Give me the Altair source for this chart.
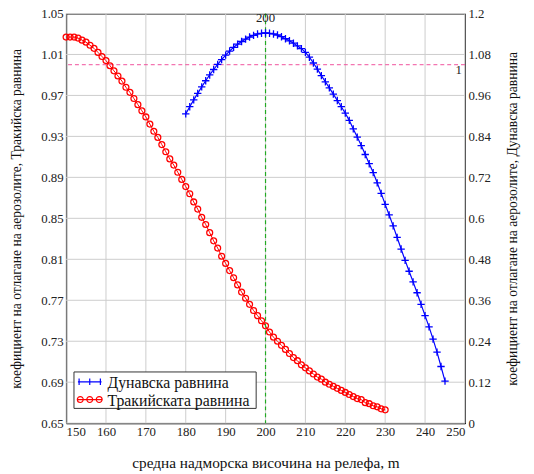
import altair as alt
import pandas as pd

# --- data ---
red_x = list(range(150, 231))
red_y = [1.027, 1.027, 1.027, 1.026, 1.024, 1.022, 1.019, 1.016, 1.012, 1.008,
         1.004, 0.999, 0.994, 0.989, 0.984, 0.978, 0.973, 0.967, 0.961, 0.955,
         0.949, 0.942, 0.935, 0.929, 0.922, 0.915, 0.908, 0.902, 0.895, 0.888,
         0.881, 0.874, 0.866, 0.859, 0.851, 0.844, 0.836, 0.828, 0.821, 0.813,
         0.806, 0.799, 0.792, 0.785, 0.778, 0.772, 0.766, 0.760, 0.755, 0.750,
         0.745, 0.739, 0.734, 0.730, 0.726, 0.722, 0.718, 0.714, 0.711, 0.707,
         0.704, 0.701, 0.698, 0.695, 0.693, 0.690, 0.688, 0.686, 0.684, 0.682,
         0.680, 0.678, 0.676, 0.674, 0.673, 0.670, 0.669, 0.667, 0.666, 0.664,
         0.663]
blue_x = list(range(180, 246))
blue_y = [0.906, 0.927, 0.947, 0.966, 0.985, 1.003, 1.020, 1.036, 1.051, 1.065,
          1.078, 1.090, 1.101, 1.110, 1.118, 1.125, 1.131, 1.136, 1.140, 1.142,
          1.143, 1.142, 1.140, 1.137, 1.132, 1.126, 1.120, 1.113, 1.105, 1.097,
          1.086, 1.072, 1.055, 1.037, 1.018, 1.000, 0.982, 0.964, 0.945, 0.927,
          0.908, 0.887, 0.862, 0.838, 0.813, 0.787, 0.760, 0.734, 0.704, 0.673,
          0.641, 0.610, 0.578, 0.544, 0.510, 0.477, 0.445, 0.414, 0.382, 0.348,
          0.315, 0.282, 0.246, 0.208, 0.166, 0.123]

x_ticks = [150, 160, 170, 180, 190, 200, 210, 220, 230, 240, 250]
left_ticks = [0.65, 0.69, 0.73, 0.77, 0.81, 0.85, 0.89, 0.93, 0.97, 1.01, 1.05]
right_ticks = [0, 0.12, 0.24, 0.36, 0.48, 0.6, 0.72, 0.84, 0.96, 1.08, 1.2]
ref_y = 1.0
ref_x = 200
series_names = ["Дунавска равнина", "Тракийската равнина"]
x_title = "средна надморска височина на релефа, m"
left_title = "коефициент на отлагане на аерозолите, Тракийска равнина"
right_title = "коефициент на отлагане на аерозолите, Дунавска равнина"

W, H = 405, 416
SERIF = "'Liberation Serif', 'Times New Roman', Times, serif"
RED = "#ff0000"
BLUE = "#0000ff"
GRID = "#cccccc"
PLUS = "M-1,0L1,0M0,-1L0,1"
LEG_PLUS = ("M-1,0L1,0M-0.9,-0.28L-0.9,0.28M0,-0.28L0,0.28M0.9,-0.28L0.9,0.28")
LEG_CIRC = ("M-1,0L1,0"
            "M-0.55,0A0.25,0.25,0,1,1,-1.05,0A0.25,0.25,0,1,1,-0.55,0"
            "M0.25,0A0.25,0.25,0,1,1,-0.25,0A0.25,0.25,0,1,1,0.25,0"
            "M1.05,0A0.25,0.25,0,1,1,0.55,0A0.25,0.25,0,1,1,1.05,0")

red_df = pd.DataFrame({"x": red_x, "v": red_y})
blue_df = pd.DataFrame({"x": blue_x, "v": blue_y})
xgrid_df = pd.DataFrame({"x": x_ticks})
ygrid_df = pd.DataFrame({"v": left_ticks})
one = alt.Data(values=[{}])

common = dict(labelFont=SERIF, labelFontSize=13, labelColor="#222", labelPadding=3,
              titleFont=SERIF, titleColor="#111", titleFontWeight="normal",
              ticks=False, domainColor="black", domainWidth=1, grid=False)

xscale = alt.Scale(domain=[150, 250], nice=False, zero=False)
lscale = alt.Scale(domain=[0.65, 1.05], nice=False, zero=False)
rscale = alt.Scale(domain=[0, 1.2], nice=False, zero=False)

xenc = alt.X("x:Q", scale=xscale,
             axis=alt.Axis(values=x_ticks, title=x_title, titleY=40,
                           titleFontSize=15.5, titleBaseline="middle", **common))
yleft = alt.Y("v:Q", scale=lscale,
              axis=alt.Axis(values=left_ticks, format=".2f", title=left_title,
                            titleX=-50, titleY=H / 2, titleAngle=270, titleFontSize=13.8,
                            titleBaseline="middle", titleAlign="center", **common))
yright = alt.Y("v:Q", scale=rscale,
               axis=alt.Axis(values=right_ticks, format=".2~f", orient="right",
                             title=right_title, titleX=48, titleY=H / 2, titleAngle=270,
                             titleFontSize=13.8, titleBaseline="middle", titleAlign="center",
                             **common))

# grid lines drawn from the tick arrays
xgrid = alt.Chart(xgrid_df).mark_rule(color=GRID, strokeWidth=1).encode(x=xenc)
ygrid = alt.Chart(ygrid_df).mark_rule(color=GRID, strokeWidth=1).encode(y=yleft)

red_line = alt.Chart(red_df).mark_line(color=RED, strokeWidth=1).encode(x="x:Q", y="v:Q")
red_pts = alt.Chart(red_df).mark_point(shape="circle", filled=False, color=RED,
                                       size=36, strokeWidth=1.3, opacity=1).encode(x="x:Q", y="v:Q")
hline = alt.Chart(one).mark_rule(color="#f0509c", strokeDash=[4, 3], strokeWidth=1).encode(
    y=alt.datum(ref_y))
vline = alt.Chart(one).mark_rule(color="#22aa22", strokeDash=[4, 3], strokeWidth=1.2).encode(
    x=alt.datum(ref_x))
txt200 = alt.Chart(one).mark_text(font=SERIF, fontSize=13, color="#222", baseline="middle").encode(
    x=alt.datum(ref_x), y=alt.value(5), text=alt.value(str(ref_x)))
txt1 = alt.Chart(one).mark_text(font=SERIF, fontSize=13, color="#222", baseline="middle",
                                align="right").encode(
    x=alt.value(W - 3), y=alt.datum(ref_y), text=alt.value("1"), yOffset=alt.value(5))

# hand-built legend box
leg_box = alt.Chart(one).mark_rect(fill="white", stroke="#333", strokeWidth=1).encode(
    x=alt.value(8), x2=alt.value(193), y=alt.value(H - 52), y2=alt.value(H - 15))
leg_sym1 = alt.Chart(one).mark_point(shape=LEG_PLUS, filled=False, color=BLUE, size=576,
                                     strokeWidth=1.2, opacity=1).encode(
    x=alt.value(24), y=alt.value(H - 42))
leg_sym2 = alt.Chart(one).mark_point(shape=LEG_CIRC, filled=False, color=RED, size=576,
                                     strokeWidth=1.2, opacity=1).encode(
    x=alt.value(24), y=alt.value(H - 24))
leg_t1 = alt.Chart(one).mark_text(font=SERIF, fontSize=16, color="#111", align="left",
                                  baseline="middle").encode(
    x=alt.value(42), y=alt.value(H - 41), text=alt.value(series_names[0]))
leg_t2 = alt.Chart(one).mark_text(font=SERIF, fontSize=16, color="#111", align="left",
                                  baseline="middle").encode(
    x=alt.value(42), y=alt.value(H - 22), text=alt.value(series_names[1]))

left = alt.layer(xgrid, ygrid, red_line, hline, vline, red_pts, txt200, txt1,
                 leg_box, leg_sym1, leg_sym2, leg_t1, leg_t2)

blue_line = alt.Chart(blue_df).mark_line(color=BLUE, strokeWidth=1.2).encode(x="x:Q", y=yright)
blue_pts = alt.Chart(blue_df).mark_point(shape=PLUS, filled=False, color=BLUE, size=56,
                                         strokeWidth=1.3, opacity=1).encode(x="x:Q", y="v:Q")
right = alt.layer(blue_line, blue_pts)

chart = alt.layer(left, right).resolve_scale(y="independent").properties(
    width=W, height=H,
    autosize=alt.AutoSizeParams(type="none"),
    padding={"left": 59, "top": 2, "right": 62, "bottom": 46},
).configure_view(stroke="black", strokeWidth=1).configure_axis(
    labelFont=SERIF, titleFont=SERIF,
)

chart.save("out.html", embed_options={"renderer": "svg", "actions": False})
